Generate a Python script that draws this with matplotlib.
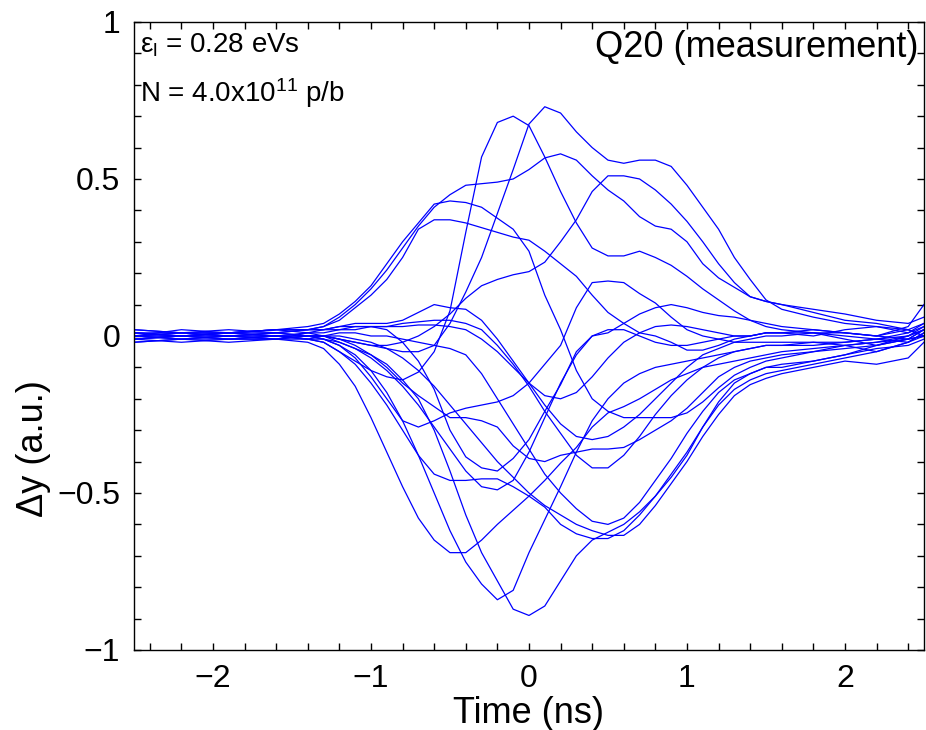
import matplotlib
matplotlib.use("Agg")
import matplotlib.pyplot as plt
from matplotlib.ticker import MultipleLocator, FixedLocator, FixedFormatter

plt.rcParams['font.family'] = ['Liberation Sans', 'DejaVu Sans']
plt.rcParams['mathtext.fontset'] = 'custom'
plt.rcParams['mathtext.rm'] = 'Liberation Sans'
plt.rcParams['mathtext.it'] = 'Liberation Sans:italic'

# sample times (ns)
t = [-2.5, -2.2, -1.9, -1.6, -1.4, -1.3, -1.2, -1.1, -1.0, -0.9,
     -0.8, -0.7, -0.6, -0.5, -0.4, -0.3, -0.2, -0.1, 0.0, 0.1,
     0.2, 0.3, 0.4, 0.5, 0.6, 0.7, 0.8, 0.9, 1.0, 1.1,
     1.2, 1.3, 1.4, 1.5, 1.6, 1.8, 2.0, 2.2, 2.4, 2.5]

# measured turns (a.u.)
y_a = [0.01, 0.0, 0.01, 0.0, -0.01,
       -0.02, -0.05, -0.08, -0.11, -0.13, -0.14, -0.115, -0.05, 0.08, 0.33,
       0.57, 0.68, 0.70, 0.67, 0.57, 0.46, 0.36, 0.28, 0.255, 0.255,
       0.27, 0.25, 0.225, 0.19, 0.15, 0.115, 0.08, 0.05, 0.03, 0.02,
       0.01, -0.01, -0.03, 0.0, 0.02]
y_b = [0.0, 0.01, 0.0, 0.01, 0.0,
       0.0, -0.01, -0.02, -0.03, -0.04, -0.05, -0.05, -0.03, 0.04, 0.14,
       0.25, 0.39, 0.53, 0.675, 0.73, 0.71, 0.65, 0.60, 0.56, 0.55,
       0.56, 0.56, 0.54, 0.48, 0.41, 0.34, 0.25, 0.18, 0.115, 0.085,
       0.06, 0.04, 0.03, 0.01, 0.04]
y_c = [0.0, 0.01, 0.01, 0.02, 0.03,
       0.04, 0.07, 0.11, 0.16, 0.23, 0.30, 0.36, 0.42, 0.43, 0.425,
       0.41, 0.375, 0.34, 0.27, 0.13, 0.02, -0.11, -0.2, -0.24, -0.26,
       -0.26, -0.26, -0.26, -0.245, -0.21, -0.165, -0.125, -0.1, -0.08, -0.07,
       -0.05, -0.03, -0.02, 0.0, 0.02]
y_d = [0.01, 0.0, 0.01, 0.01, 0.02,
       0.03, 0.05, 0.09, 0.13, 0.18, 0.25, 0.34, 0.37, 0.37, 0.36,
       0.345, 0.33, 0.315, 0.305, 0.27, 0.23, 0.19, 0.13, 0.075, 0.04,
       0.01, 0.0, -0.02, -0.045, -0.045, -0.03, -0.01, 0.0, 0.01, 0.01,
       0.01, 0.0, -0.01, -0.02, 0.01]
y_e = [0.0, 0.0, 0.01, 0.02, 0.02,
       0.03, 0.06, 0.10, 0.15, 0.21, 0.28, 0.35, 0.41, 0.45, 0.48,
       0.485, 0.49, 0.50, 0.53, 0.567, 0.58, 0.56, 0.51, 0.465, 0.43,
       0.38, 0.35, 0.34, 0.30, 0.23, 0.185, 0.155, 0.125, 0.11, 0.10,
       0.085, 0.07, 0.05, 0.04, 0.06]
y_f = [-0.01, 0.0, 0.0, 0.01, 0.0,
       0.0, -0.01, -0.02, -0.03, -0.03, -0.02, 0.0, 0.03, 0.07, 0.12,
       0.16, 0.18, 0.195, 0.205, 0.235, 0.30, 0.37, 0.46, 0.51, 0.51,
       0.50, 0.465, 0.42, 0.365, 0.30, 0.23, 0.17, 0.125, 0.11, 0.10,
       0.075, 0.05, 0.04, 0.02, 0.0]
y_g = [0.0, -0.01, 0.0, 0.0, -0.01,
       -0.01, -0.03, -0.07, -0.13, -0.2, -0.27, -0.29, -0.27, -0.245, -0.23,
       -0.22, -0.21, -0.19, -0.15, -0.09, -0.03, 0.09, 0.17, 0.175, 0.17,
       0.135, 0.105, 0.06, 0.02, 0.0, -0.01, -0.02, -0.02, -0.02, -0.02,
       -0.02, -0.03, -0.05, -0.02, 0.0]
y_h = [0.02, 0.01, 0.01, 0.02, 0.02,
       0.02, 0.03, 0.03, 0.03, 0.02, -0.02, -0.08, -0.17, -0.3, -0.385,
       -0.42, -0.43, -0.39, -0.33, -0.24, -0.155, -0.05, 0.0, 0.01, 0.04,
       0.07, 0.09, 0.10, 0.09, 0.075, 0.065, 0.06, 0.05, 0.04, 0.03,
       0.02, 0.01, 0.0, 0.03, 0.1]
y_i = [-0.02, -0.01, -0.01, 0.0, 0.0,
       -0.01, -0.02, -0.04, -0.06, -0.09, -0.14, -0.2, -0.3, -0.43, -0.57,
       -0.69, -0.78, -0.87, -0.89, -0.86, -0.78, -0.70, -0.65, -0.625, -0.60,
       -0.56, -0.51, -0.45, -0.38, -0.29, -0.21, -0.15, -0.12, -0.10, -0.09,
       -0.08, -0.06, -0.03, -0.01, 0.02]
y_j = [-0.01, 0.0, -0.01, -0.01, 0.0,
       -0.01, -0.03, -0.06, -0.11, -0.18, -0.27, -0.38, -0.5, -0.62, -0.72,
       -0.79, -0.84, -0.81, -0.69, -0.585, -0.48, -0.37, -0.27, -0.2, -0.15,
       -0.12, -0.10, -0.09, -0.08, -0.07, -0.06, -0.05, -0.04, -0.03, -0.03,
       -0.02, -0.02, -0.01, 0.0, 0.03]
y_k = [0.0, -0.01, 0.0, -0.01, -0.02,
       -0.04, -0.09, -0.16, -0.26, -0.37, -0.48, -0.58, -0.65, -0.69, -0.69,
       -0.65, -0.60, -0.555, -0.51, -0.46, -0.405, -0.355, -0.29, -0.245, -0.225,
       -0.2, -0.17, -0.14, -0.12, -0.1, -0.09, -0.08, -0.07, -0.06, -0.05,
       -0.04, -0.03, -0.02, -0.01, 0.0]
y_l = [0.01, 0.0, -0.01, 0.0, -0.01,
       -0.02, -0.05, -0.09, -0.15, -0.22, -0.3, -0.38, -0.44, -0.46, -0.46,
       -0.455, -0.455, -0.48, -0.51, -0.545, -0.60, -0.63, -0.645, -0.645, -0.62,
       -0.57, -0.51, -0.44, -0.37, -0.29, -0.22, -0.17, -0.14, -0.12, -0.11,
       -0.09, -0.07, -0.05, -0.02, 0.01]
y_m = [0.01, 0.01, 0.0, 0.0, 0.01,
       0.0, -0.02, -0.04, -0.07, -0.11, -0.16, -0.22, -0.29, -0.36, -0.43,
       -0.48, -0.49, -0.46, -0.37, -0.26, -0.15, -0.06, 0.0, 0.02, 0.02,
       0.0, -0.02, -0.03, -0.03, -0.02, -0.01, 0.0, 0.0, 0.01, 0.01,
       0.0, 0.02, 0.03, 0.02, 0.0]
y_n = [-0.01, -0.02, -0.01, -0.01, 0.0,
       0.0, 0.0, -0.01, -0.02, -0.04, -0.07, -0.11, -0.16, -0.22, -0.28,
       -0.34, -0.40, -0.45, -0.50, -0.54, -0.57, -0.60, -0.62, -0.635, -0.635,
       -0.60, -0.54, -0.47, -0.40, -0.32, -0.25, -0.19, -0.155, -0.135, -0.12,
       -0.1, -0.08, -0.09, -0.07, -0.02]
y_o = [0.0, 0.0, 0.01, 0.0, 0.0,
       0.0, -0.01, -0.03, -0.06, -0.1, -0.15, -0.19, -0.225, -0.26, -0.26,
       -0.27, -0.29, -0.35, -0.39, -0.40, -0.38, -0.37, -0.36, -0.36, -0.355,
       -0.33, -0.30, -0.27, -0.23, -0.18, -0.13, -0.1, -0.08, -0.07, -0.06,
       -0.05, -0.04, -0.03, -0.01, 0.02]
y_p = [0.02, 0.01, 0.02, 0.01, 0.02,
       0.02, 0.03, 0.04, 0.04, 0.04, 0.05, 0.075, 0.1, 0.09, 0.085,
       0.05, -0.01, -0.08, -0.15, -0.22, -0.28, -0.32, -0.33, -0.32, -0.29,
       -0.25, -0.2, -0.15, -0.1, -0.06, -0.04, -0.02, -0.01, 0.0, 0.0,
       0.01, 0.01, 0.0, -0.01, 0.0]
y_q = [0.0, 0.02, 0.01, 0.02, 0.01,
       0.02, 0.02, 0.03, 0.03, 0.03, 0.03, 0.035, 0.035, 0.03, 0.02,
       -0.01, -0.05, -0.1, -0.15, -0.19, -0.2, -0.18, -0.13, -0.07, -0.02,
       0.01, 0.03, 0.035, 0.03, 0.02, 0.01, 0.0, 0.0, 0.01, 0.01,
       0.02, 0.01, 0.0, 0.02, 0.04]
y_r = [-0.02, -0.01, -0.02, -0.01, -0.01,
       0.0, 0.01, 0.01, 0.0, 0.0, -0.01, -0.02, -0.03, -0.04, -0.06,
       -0.12, -0.2, -0.28, -0.36, -0.44, -0.5, -0.55, -0.59, -0.6, -0.58,
       -0.53, -0.46, -0.39, -0.31, -0.24, -0.18, -0.14, -0.12, -0.1, -0.1,
       -0.08, -0.06, -0.04, -0.03, -0.01]
y_s = [-0.01, 0.0, 0.0, -0.01, 0.01,
       0.01, 0.02, 0.02, 0.03, 0.03, 0.04, 0.045, 0.05, 0.05, 0.04,
       0.02, -0.03, -0.09, -0.16, -0.24, -0.31, -0.38, -0.42, -0.42, -0.38,
       -0.32, -0.25, -0.19, -0.14, -0.1, -0.07, -0.05, -0.04, -0.03, -0.03,
       -0.03, -0.02, -0.01, 0.01, 0.03]

turns = [y_a, y_b, y_c, y_d, y_e, y_f, y_g, y_h, y_i, y_j,
         y_k, y_l, y_m, y_n, y_o, y_p, y_q, y_r, y_s]

fig = plt.figure(figsize=(9.26, 7.30), dpi=100)
ax = fig.add_axes([0.1447, 0.1096, 0.8531, 0.8603])

for y in turns:
    ax.plot(t, y, color=(0, 0, 1), lw=0.9)

ax.set_xlim(-2.5, 2.5)
ax.set_ylim(-1, 1)
ax.xaxis.set_major_locator(FixedLocator([-2, -1, 0, 1, 2]))
ax.xaxis.set_major_formatter(FixedFormatter(['\u22122', '\u22121', '0', '1', '2']))
ax.xaxis.set_minor_locator(MultipleLocator(0.2))
ax.yaxis.set_major_locator(FixedLocator([-1, -0.5, 0, 0.5, 1]))
ax.yaxis.set_major_formatter(FixedFormatter(['\u22121', '\u22120.5', '0', '0.5', '1']))
ax.yaxis.set_minor_locator(MultipleLocator(0.1))
ax.tick_params(which='both', direction='in', top=True, right=True,
               length=5, width=1)
ax.tick_params(axis='x', labelsize=23, pad=10)
ax.tick_params(axis='y', labelsize=23, pad=10)
for s in ax.spines.values():
    s.set_linewidth(1.0)

ax.set_xlabel('Time (ns)', fontsize=26)
ax.xaxis.set_label_coords(0.5, -0.073)
ax.set_ylabel('\u0394y (a.u.)', fontsize=26)
ax.yaxis.set_label_coords(-0.105, 0.32)

ax.text(0.008, 0.963, '\u03b5$_\\mathrm{l}$ = 0.28 eVs', transform=ax.transAxes,
        fontsize=20, ha='left', va='center')
ax.text(0.008, 0.887, 'N = 4.0x10$^{11}$ p/b', transform=ax.transAxes,
        fontsize=20, ha='left', va='center')
ax.text(0.993, 0.960, 'Q20 (measurement)', transform=ax.transAxes,
        fontsize=26, ha='right', va='center')

fig.savefig('out.png', dpi=100)
